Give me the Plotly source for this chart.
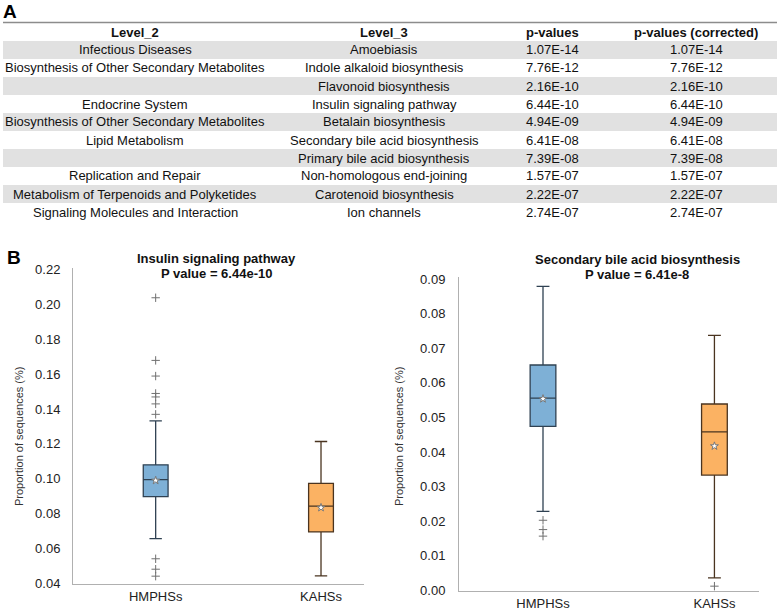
import plotly.graph_objects as go

W, H = 777, 610

# ---------------- Table data ----------------
headers = ["Level_2", "Level_3", "p-values", "p-values (corrected)"]
level2 = ["Infectious Diseases", "Biosynthesis of Other Secondary Metabolites", "",
          "Endocrine System", "Biosynthesis of Other Secondary Metabolites",
          "Lipid Metabolism", "", "Replication and Repair",
          "Metabolism of Terpenoids and Polyketides", "Signaling Molecules and Interaction"]
level3 = ["Amoebiasis", "Indole alkaloid biosynthesis", "Flavonoid biosynthesis",
          "Insulin signaling pathway", "Betalain biosynthesis",
          "Secondary bile acid biosynthesis", "Primary bile acid biosynthesis",
          "Non-homologous end-joining", "Carotenoid biosynthesis", "Ion channels"]
pvalues = ["1.07E-14", "7.76E-12", "2.16E-10", "6.44E-10", "4.94E-09",
           "6.41E-08", "7.39E-08", "1.57E-07", "2.22E-07", "2.74E-07"]
pvalues_corr = ["1.07E-14", "7.76E-12", "2.16E-10", "6.44E-10", "4.94E-09",
                "6.41E-08", "7.39E-08", "1.57E-07", "2.22E-07", "2.74E-07"]

# ---------------- Box plot data ----------------
groups = ["HMPHSs", "KAHSs"]

ins_q1 = [0.0897, 0.0694]
ins_median = [0.0995, 0.0843]
ins_q3 = [0.1080, 0.0973]
ins_lower = [0.0656, 0.0442]
ins_upper = [0.1332, 0.1214]
ins_mean = [0.0990, 0.0834]
ins_outliers_hm = [0.204, 0.168, 0.159, 0.149, 0.147, 0.143, 0.137, 0.054, 0.048, 0.044]
ins_outliers_ka = []

sba_q1 = [0.0474, 0.0333]
sba_median = [0.0556, 0.0458]
sba_q3 = [0.0652, 0.0539]
sba_lower = [0.0228, 0.0035]
sba_upper = [0.0880, 0.0738]
sba_mean = [0.0554, 0.0417]
sba_outliers_hm = [0.0202, 0.0175, 0.0156]
sba_outliers_ka = [0.0011]

ins_title = ["Insulin signaling pathway", "P value = 6.44e-10"]
sba_title = ["Secondary bile acid biosynthesis", "P value = 6.41e-8"]
ytitle = "Proportion of sequences (%)"

FONT = "Liberation Sans, Arial, sans-serif"
fill_colors = ["#7eb0d6", "#fbb263"]
line_colors = ["#2f4152", "#4a3420"]


def px(x):
    return x / W


def py(y):
    return 1 - y / H


fig = go.Figure()

# Box traces
panels = [
    ("x", "y", ins_q1, ins_median, ins_q3, ins_lower, ins_upper, ins_mean,
     [ins_outliers_hm, ins_outliers_ka]),
    ("x2", "y2", sba_q1, sba_median, sba_q3, sba_lower, sba_upper, sba_mean,
     [sba_outliers_hm, sba_outliers_ka]),
]
for xa, ya, q1, med, q3, lo, up, mean, outs in panels:
    for i, g in enumerate(groups):
        fig.add_trace(go.Box(
            x=[g], q1=[q1[i]], median=[med[i]], q3=[q3[i]],
            lowerfence=[lo[i]], upperfence=[up[i]],
            fillcolor=fill_colors[i], line=dict(color=line_colors[i], width=1.3),
            width=0.15, whiskerwidth=0.5, boxpoints=False,
            xaxis=xa, yaxis=ya, showlegend=False, hoverinfo="skip"))
        fig.add_trace(go.Scatter(
            x=[g], y=[mean[i]], mode="markers",
            marker=dict(symbol="star", size=6, color="white",
                        line=dict(color="#777777", width=1)),
            xaxis=xa, yaxis=ya, showlegend=False, hoverinfo="skip"))
        if outs[i]:
            fig.add_trace(go.Scatter(
                x=[g] * len(outs[i]), y=outs[i], mode="markers",
                marker=dict(symbol="cross-thin-open", size=6, color="#707070",
                            line=dict(color="#707070", width=1)),
                xaxis=xa, yaxis=ya, showlegend=False, hoverinfo="skip"))

axis_common = dict(showgrid=False, zeroline=False, showline=True,
                   linecolor="#b0b0b0", linewidth=1,
                   tickfont=dict(family=FONT, size=13, color="#222222"))

fig.update_layout(
    width=W, height=H, autosize=False,
    margin=dict(l=0, r=0, t=0, b=0),
    paper_bgcolor="white", plot_bgcolor="white",
    boxmode="overlay",
    xaxis=dict(domain=[px(73), px(364)], anchor="y", range=[-0.5, 1.26],
               type="category", ticks="", automargin=False, **axis_common),
    yaxis=dict(domain=[py(584), py(268)], anchor="x", range=[0.0395, 0.2211],
               tick0=0.04, dtick=0.02, tickformat=".2f", ticks="",
               ticklabelstandoff=9, automargin=False, **axis_common),
    xaxis2=dict(domain=[px(459), px(759)], anchor="y2", range=[-0.49, 1.26],
                type="category", ticks="", automargin=False, **axis_common),
    yaxis2=dict(domain=[py(591), py(277)], anchor="x2", range=[-0.0003, 0.0907],
                tick0=0, dtick=0.01, tickformat=".2f", ticks="",
                ticklabelstandoff=10, automargin=False, **axis_common),
)

annotations = []
shapes = []

# ---------------- Table ----------------
col_x = [135, 384, 552, 696]
header_y = 32
row0_y = 50
row_h = 18
table_top = 22.5

shapes.append(dict(type="line", xref="paper", yref="paper",
                   x0=px(3), x1=px(777), y0=py(table_top), y1=py(table_top),
                   line=dict(color="#8c8c8c", width=1.5)))
for i in range(len(level3)):
    cy = row0_y + row_h * i
    if i % 2 == 0:
        shapes.append(dict(type="rect", xref="paper", yref="paper", layer="below",
                           x0=px(3), x1=px(777), y0=py(cy - row_h / 2), y1=py(cy + row_h / 2),
                           fillcolor="#e1e1e1", line=dict(width=0)))

for j, h in enumerate(headers):
    annotations.append(dict(text="<b>" + h + "</b>", x=px(col_x[j]), y=py(header_y),
                            xref="paper", yref="paper", showarrow=False,
                            xanchor="center", yanchor="middle",
                            font=dict(family=FONT, size=13, color="#111111")))
for i in range(len(level3)):
    cy = row0_y + row_h * i
    for j, col in enumerate([level2, level3, pvalues, pvalues_corr]):
        if col[i]:
            annotations.append(dict(text=col[i], x=px(col_x[j]), y=py(cy),
                                    xref="paper", yref="paper", showarrow=False,
                                    xanchor="center", yanchor="middle",
                                    font=dict(family=FONT, size=13, color="#111111")))

# Panel labels
annotations.append(dict(text="<b>A</b>", x=px(10), y=py(11.5), xref="paper", yref="paper",
                        showarrow=False, xanchor="center", yanchor="middle",
                        font=dict(family=FONT, size=19, color="black")))
annotations.append(dict(text="<b>B</b>", x=px(14), y=py(257), xref="paper", yref="paper",
                        showarrow=False, xanchor="center", yanchor="middle",
                        font=dict(family=FONT, size=19, color="black")))

# Plot titles
for (cx, y1, y2, t) in [(217, 258, 273, ins_title), (637, 259, 274, sba_title)]:
    annotations.append(dict(text="<b>" + t[0] + "</b>", x=px(cx), y=py(y1),
                            xref="paper", yref="paper", showarrow=False,
                            xanchor="center", yanchor="middle",
                            font=dict(family=FONT, size=13, color="#111111")))
    annotations.append(dict(text="<b>" + t[1] + "</b>", x=px(cx), y=py(y2),
                            xref="paper", yref="paper", showarrow=False,
                            xanchor="center", yanchor="middle",
                            font=dict(family=FONT, size=13, color="#111111")))

# Y axis titles
for cx in [19, 399]:
    annotations.append(dict(text=ytitle, x=px(cx), y=py(437), textangle=-90,
                            xref="paper", yref="paper", showarrow=False,
                            xanchor="center", yanchor="middle",
                            font=dict(family=FONT, size=11, color="#333333")))

fig.update_layout(annotations=annotations, shapes=shapes)

fig.write_html("out.html", config={"displayModeBar": False},
               post_script="document.body.style.margin='0';document.body.style.overflow='hidden';")
